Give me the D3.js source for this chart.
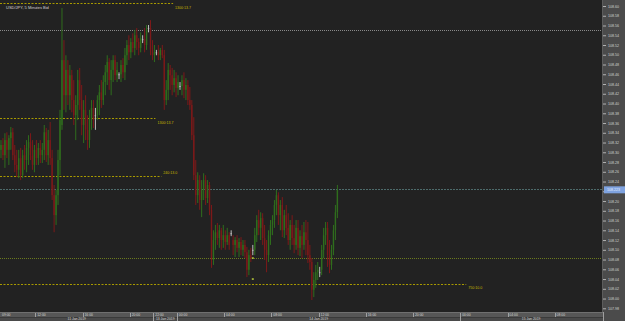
<!DOCTYPE html>
<html>
<head>
<meta charset="utf-8">
<script src="https://cdn.jsdelivr.net/npm/d3@7"></script>
<style>
  html, body { margin: 0; padding: 0; background: #222; }
  svg { display: block; }
</style>
</head>
<body>
<div id="chart"></div>
<script>
const title = "USD/JPY, 5 Minutes Bid";

// bars, one per slot; Fri 11 Jan 09:00 .. 21:50, then Sun 13 Jan 22:00 .. Mon 14 Jan 13:40
const open = [
  108.305,108.315,108.294,108.325,108.305,108.329,108.341,108.294,108.274,108.264,
  108.288,108.253,108.294,108.284,108.309,108.321,108.294,108.274,108.305,108.288,
  108.309,108.294,108.305,108.341,108.294,108.325,108.288,108.212,108.171,108.212,
  108.284,108.356,108.489,108.417,108.469,108.417,108.458,108.407,108.376,108.397,
  108.448,108.407,108.356,108.387,108.346,108.325,108.370,108.391,108.376,108.376,
  108.407,108.423,108.407,108.444,108.464,108.485,108.448,108.469,108.489,108.458,
  108.460,108.460,108.479,108.464,108.499,108.520,108.505,108.526,108.514,108.540,
  108.526,108.514,108.532,108.532,108.520,108.555,108.555,108.510,
  108.499,108.505,108.505,108.499,108.510,108.499,108.407,108.428,108.469,108.458,
  108.438,108.452,108.432,108.436,108.436,108.448,108.428,108.438,108.407,108.397,
  108.335,108.253,108.212,108.243,108.202,108.223,108.243,108.206,108.233,108.182,
  108.079,108.120,108.136,108.124,108.140,108.120,108.130,108.116,108.130,108.134,
  108.120,108.110,108.120,108.104,108.116,108.100,108.110,108.095,108.059,108.089,
  108.100,108.100,108.130,108.161,108.145,108.165,108.124,108.100,108.089,108.130,
  108.151,108.161,108.192,108.212,108.171,108.192,108.140,108.171,108.145,108.120,
  108.151,108.124,108.110,108.145,108.104,108.128,108.110,108.136,108.120,108.089,
  108.075,108.018,108.038,108.054,108.054,108.059,108.100,108.130,108.145,108.089,108.069,108.100,108.140,108.177
];
const high = [
  108.325,108.329,108.339,108.341,108.335,108.352,108.350,108.315,108.305,108.305,
  108.309,108.305,108.315,108.325,108.335,108.339,108.325,108.315,108.325,108.319,
  108.325,108.319,108.356,108.350,108.346,108.362,108.305,108.233,108.223,108.305,
  108.387,108.596,108.530,108.499,108.489,108.479,108.469,108.448,108.417,108.469,
  108.473,108.438,108.407,108.417,108.376,108.387,108.407,108.407,108.391,108.417,
  108.438,108.448,108.458,108.479,108.499,108.493,108.489,108.499,108.499,108.485,
  108.464,108.489,108.493,108.514,108.530,108.540,108.534,108.544,108.551,108.555,
  108.534,108.546,108.540,108.555,108.561,108.561,108.571,108.530,
  108.520,108.510,108.520,108.514,108.520,108.510,108.448,108.483,108.479,108.473,
  108.469,108.464,108.458,108.444,108.458,108.464,108.452,108.448,108.434,108.407,
  108.372,108.284,108.259,108.253,108.243,108.257,108.253,108.243,108.239,108.192,
  108.140,108.151,108.155,108.151,108.145,108.151,108.140,108.145,108.136,108.140,
  108.130,108.126,108.130,108.124,108.126,108.120,108.120,108.106,108.100,108.104,
  108.110,108.145,108.171,108.182,108.177,108.175,108.151,108.120,108.140,108.161,
  108.171,108.202,108.223,108.218,108.202,108.208,108.182,108.192,108.175,108.161,
  108.171,108.151,108.161,108.161,108.140,108.151,108.157,108.161,108.157,108.110,
  108.083,108.054,108.069,108.075,108.065,108.110,108.145,108.157,108.157,108.120,108.110,108.151,108.192,108.233
];
const low = [
  108.288,108.284,108.268,108.288,108.274,108.305,108.284,108.259,108.249,108.247,
  108.243,108.247,108.264,108.259,108.274,108.284,108.264,108.259,108.274,108.274,
  108.278,108.278,108.284,108.280,108.274,108.274,108.202,108.136,108.151,108.192,
  108.253,108.346,108.387,108.382,108.397,108.387,108.382,108.356,108.325,108.366,
  108.387,108.335,108.319,108.325,108.305,108.309,108.346,108.350,108.346,108.366,
  108.376,108.391,108.397,108.417,108.438,108.428,108.417,108.444,108.448,108.444,
  108.450,108.444,108.452,108.448,108.479,108.489,108.493,108.505,108.499,108.510,
  108.499,108.505,108.524,108.505,108.510,108.546,108.499,108.489,
  108.485,108.499,108.489,108.489,108.493,108.387,108.397,108.407,108.428,108.417,
  108.423,108.413,108.417,108.428,108.417,108.411,108.407,108.397,108.387,108.325,
  108.243,108.192,108.196,108.182,108.167,108.202,108.192,108.196,108.171,108.063,
  108.069,108.100,108.110,108.104,108.100,108.104,108.100,108.110,108.100,108.128,
  108.089,108.085,108.095,108.085,108.089,108.087,108.083,108.044,108.048,108.075,
  108.089,108.089,108.116,108.130,108.120,108.110,108.079,108.054,108.075,108.110,
  108.130,108.145,108.171,108.151,108.140,108.126,108.124,108.130,108.110,108.100,
  108.110,108.093,108.100,108.089,108.087,108.083,108.100,108.089,108.073,108.059,
  107.997,108.003,108.022,108.038,108.044,108.048,108.083,108.110,108.065,108.052,108.059,108.089,108.120,108.165
];
const close = [
  108.315,108.294,108.325,108.305,108.329,108.341,108.294,108.274,108.264,108.288,
  108.253,108.294,108.284,108.309,108.321,108.294,108.274,108.305,108.288,108.309,
  108.294,108.305,108.341,108.294,108.325,108.288,108.212,108.171,108.212,108.284,
  108.366,108.489,108.417,108.469,108.417,108.458,108.407,108.376,108.397,108.448,
  108.407,108.356,108.387,108.346,108.325,108.370,108.391,108.366,108.376,108.407,
  108.423,108.407,108.444,108.464,108.485,108.448,108.469,108.489,108.458,108.469,
  108.460,108.479,108.464,108.499,108.520,108.505,108.526,108.514,108.540,108.526,
  108.514,108.534,108.532,108.520,108.551,108.555,108.510,108.499,
  108.505,108.505,108.499,108.510,108.499,108.407,108.428,108.469,108.458,108.438,
  108.452,108.432,108.444,108.436,108.448,108.428,108.438,108.407,108.397,108.335,
  108.253,108.212,108.243,108.202,108.223,108.243,108.206,108.233,108.182,108.079,
  108.120,108.136,108.124,108.140,108.120,108.130,108.116,108.130,108.110,108.134,
  108.110,108.120,108.104,108.116,108.100,108.110,108.095,108.059,108.089,108.083,
  108.100,108.130,108.161,108.145,108.165,108.124,108.100,108.089,108.130,108.151,
  108.161,108.192,108.212,108.171,108.192,108.140,108.171,108.145,108.120,108.151,
  108.124,108.110,108.145,108.104,108.128,108.110,108.136,108.120,108.089,108.075,
  108.018,108.038,108.054,108.059,108.054,108.100,108.130,108.145,108.089,108.069,108.100,108.140,108.177,108.223
];

// price axis
const priceTicks = d3.range(10798, 10861, 2).map((v) => v / 100);

// time axis (slot index of each label)
const timeSlots = [0, 18, 42, 66, 78, 90, 114, 138, 162, 186, 210, 234, 258, 282];
const timeLabels = ["09:00","12:00","16:00","20:00","22:00","00:00","04:00","08:00","12:00","16:00","20:00","00:00","04:00","08:00"];
const daySlots = [0, 78, 90, 234, 306];
const dayLabels = ["11 Jan 2019", "13 Jan 2019", "14 Jan 2019", "15 Jan 2019"];

// order levels
const levelPrices = [108.606, 108.370, 108.251, 108.030];
const levelEnds = [88, 79, 82, 237];
const levelLabels = ["1300:13.7", "1300:13.7", "240:13.0", "750:10.0"];

// horizontal guides
const guidePrices = [108.551, 108.224, 108.083];

// trade markers
const markerSlots = [128, 128];
const markerPrices = [108.083, 108.040];

const W = 625, H = 321, plotW = 602, plotH = 312;
const font = "'Liberation Sans', Arial, sans-serif";

const svg = d3.select("#chart").append("svg")
  .attr("width", W).attr("height", H)
  .style("font-family", font);

svg.append("rect").attr("width", W).attr("height", H).attr("fill", "#4b4b4b");
svg.append("rect").attr("width", plotW).attr("height", plotH).attr("fill", "#222222");

const x = d3.scaleLinear().domain([0, 306]).range([0, plotW]);
const y = d3.scaleLinear().domain([107.98, 108.60]).range([308.3, 6]);

const plot = svg.append("g");

// guides
const guideStyle = [
  { stroke: "#8a8a8a", dash: "1,1" },
  { stroke: "#4d6b6b", dash: "2,1" },
  { stroke: "#6b7a1e", dash: "1,1" }
];
plot.selectAll(".guide")
  .data(guidePrices)
  .join("line")
  .attr("class", "guide")
  .attr("x1", 0).attr("x2", plotW)
  .attr("y1", (d) => Math.round(y(d)) + 0.5)
  .attr("y2", (d) => Math.round(y(d)) + 0.5)
  .attr("stroke", (d, i) => guideStyle[i].stroke)
  .attr("stroke-dasharray", (d, i) => guideStyle[i].dash);

// order levels (dashed yellow)
plot.selectAll(".level")
  .data(levelPrices)
  .join("line")
  .attr("class", "level")
  .attr("x1", 0)
  .attr("x2", (d, i) => x(levelEnds[i]))
  .attr("y1", (d) => Math.round(y(d)) + 0.5)
  .attr("y2", (d) => Math.round(y(d)) + 0.5)
  .attr("stroke", "#a89a00")
  .attr("stroke-dasharray", "2,1.5");

plot.selectAll(".level-label")
  .data(levelPrices)
  .join("text")
  .attr("class", "level-label")
  .attr("x", (d, i) => x(levelEnds[i]) + 2)
  .attr("y", (d, i) => y(d) + (i === 2 ? -2.5 : 5.5))
  .attr("fill", "#c9b800")
  .attr("font-size", "3.6px")
  .text((d, i) => levelLabels[i]);

// candles
const bars = open.map((o, i) => ({ i, o, h: high[i], l: low[i], c: close[i] }));
const barColor = (d) => d.c > d.o ? "#2f6d1d" : d.c < d.o ? "#7c1919" : "#bdbdbd";
const cx = (i) => x(i + 0.5);

plot.selectAll(".wick")
  .data(bars)
  .join("rect")
  .attr("class", "wick")
  .attr("x", (d) => cx(d.i) - 0.5)
  .attr("width", 1)
  .attr("y", (d) => y(d.h))
  .attr("height", (d) => Math.max(1, y(d.l) - y(d.h)))
  .attr("fill", barColor);

plot.selectAll(".body")
  .data(bars)
  .join("rect")
  .attr("class", "body")
  .attr("x", (d) => cx(d.i) - 0.7)
  .attr("width", 1.4)
  .attr("y", (d) => y(Math.max(d.o, d.c)))
  .attr("height", (d) => Math.max(1, Math.abs(y(d.o) - y(d.c))))
  .attr("fill", barColor);

// markers
plot.selectAll(".marker")
  .data(markerPrices)
  .join("rect")
  .attr("class", "marker")
  .attr("x", (d, i) => cx(markerSlots[i]) - 1)
  .attr("y", (d) => y(d) - 0.75)
  .attr("width", 2).attr("height", 1.5)
  .attr("fill", "#b9cc3a");

// title
svg.append("text")
  .attr("x", 6).attr("y", 8.5)
  .attr("fill", "#d6d6d6")
  .attr("font-size", "4px")
  .text(title);

// right price axis
const current = close[close.length - 1];
svg.append("line")
  .attr("x1", plotW + 0.5).attr("x2", plotW + 0.5)
  .attr("y1", 0).attr("y2", plotH)
  .attr("stroke", "#5c5c5c");

const yAxis = svg.append("g")
  .attr("transform", `translate(${plotW + 1},0)`)
  .call(d3.axisRight(y)
    .tickValues(priceTicks)
    .tickSize(3)
    .tickPadding(2)
    .tickFormat(d3.format(".2f")))
  .call((g) => g.select(".domain").remove());
yAxis.selectAll("line").attr("stroke", "#b0b0b0");
yAxis.selectAll("text")
  .attr("fill", "#d2d2d2")
  .attr("font-size", "3.6px")
  .attr("font-family", font)
  .style("opacity", (d) => Math.abs(y(d) - y(current)) < 5 ? 0 : 1);

// current price tag
svg.append("rect")
  .attr("x", plotW + 2).attr("y", y(current) - 3.5)
  .attr("width", 21).attr("height", 7)
  .attr("fill", "#7fa3e0");
svg.append("text")
  .attr("x", plotW + 5).attr("y", y(current) + 1.3)
  .attr("fill", "#e8f0ff")
  .attr("font-size", "3.6px")
  .text(current.toFixed(3));

// bottom time axis: two rows
const rowTop = plotH, rowMid = plotH + 5;
svg.append("rect").attr("x", 0).attr("y", rowTop).attr("width", plotW + 1).attr("height", 5).attr("fill", "#575757");
svg.append("rect").attr("x", 0).attr("y", rowMid).attr("width", plotW + 1).attr("height", H - rowMid).attr("fill", "#4a4a4a");
svg.append("line").attr("x1", 0).attr("x2", plotW + 1).attr("y1", rowTop + 0.5).attr("y2", rowTop + 0.5).attr("stroke", "#707070");
svg.append("line").attr("x1", 0).attr("x2", plotW + 1).attr("y1", rowMid + 0.5).attr("y2", rowMid + 0.5).attr("stroke", "#3a3a3a");

const timeG = svg.append("g");
timeG.selectAll("line")
  .data(timeSlots.slice(1))
  .join("line")
  .attr("x1", (d) => Math.round(x(d)) + 0.5)
  .attr("x2", (d) => Math.round(x(d)) + 0.5)
  .attr("y1", rowTop + 1).attr("y2", rowMid)
  .attr("stroke", "#a0a0a0");
timeG.selectAll("text")
  .data(timeSlots)
  .join("text")
  .attr("x", (d) => x(d) + (d === 0 ? 2 : 1.8))
  .attr("y", rowTop + 4.3)
  .attr("fill", "#d4d4d4")
  .attr("font-size", "3.4px")
  .text((d, i) => timeLabels[i]);

const dayG = svg.append("g");
const defs = svg.append("defs");
dayLabels.forEach((lab, i) => {
  const x0 = x(daySlots[i]), x1 = Math.min(x(daySlots[i + 1]), plotW);
  defs.append("clipPath").attr("id", `day-clip-${i}`)
    .append("rect").attr("x", x0 + 1).attr("y", rowMid).attr("width", x1 - x0 - 1).attr("height", H - rowMid);
  if (i > 0) {
    dayG.append("line")
      .attr("x1", Math.round(x0) + 0.5).attr("x2", Math.round(x0) + 0.5)
      .attr("y1", rowMid).attr("y2", H)
      .attr("stroke", "#a0a0a0");
  }
  dayG.append("text")
    .attr("x", (x0 + x1) / 2).attr("y", H - 0.6)
    .attr("text-anchor", "middle")
    .attr("clip-path", `url(#day-clip-${i})`)
    .attr("fill", "#d4d4d4")
    .attr("font-size", "3.4px")
    .text(lab);
});
svg.append("line")
  .attr("x1", plotW + 1.5).attr("x2", plotW + 1.5)
  .attr("y1", rowTop).attr("y2", H)
  .attr("stroke", "#a0a0a0");
</script>
</body>
</html>
